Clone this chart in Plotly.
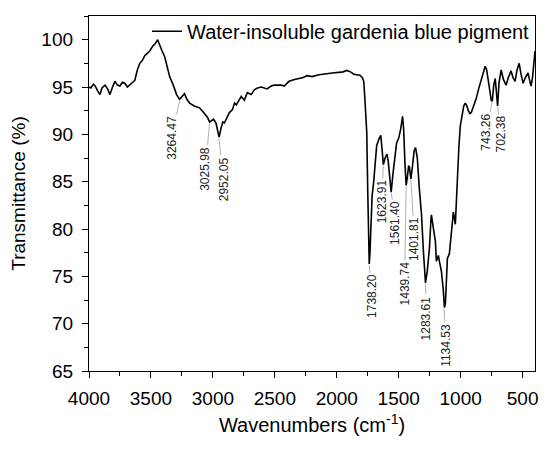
import plotly.graph_objects as go

# FTIR spectrum, values
wavenumber = [
    4000, 3985, 3965, 3950, 3930, 3912, 3895, 3871, 3850, 3831, 3810, 3791,
    3770, 3751, 3730, 3711, 3690, 3671, 3650, 3630, 3610, 3590, 3570, 3550,
    3534, 3510, 3486, 3465, 3446, 3430, 3410, 3389, 3370, 3349, 3320, 3293,
    3269, 3250, 3229, 3210, 3188, 3150, 3108, 3075, 3044, 3026, 3012, 2995,
    2975, 2960, 2950, 2935, 2920, 2907, 2885, 2867, 2843, 2825, 2811, 2790,
    2771, 2746, 2722, 2690, 2666, 2640, 2610, 2562, 2530, 2505, 2449, 2425,
    2385, 2340, 2304, 2270, 2240, 2200, 2144, 2100, 2063, 2020, 1983, 1950,
    1919, 1890, 1862, 1840, 1814, 1795, 1782, 1772, 1766, 1758, 1750, 1742,
    1738, 1732, 1725, 1715, 1702, 1690, 1678, 1660, 1645, 1635, 1624, 1610,
    1595, 1585, 1570, 1561, 1545, 1530, 1517, 1500, 1485, 1469, 1460, 1450,
    1440, 1430, 1420, 1413, 1402, 1390, 1375, 1364, 1350, 1335, 1316, 1300,
    1284, 1270, 1252, 1240, 1236, 1225, 1204, 1196, 1180, 1172, 1155, 1140,
    1131, 1123, 1107, 1091, 1075, 1059, 1043, 1030, 1015, 1003, 990, 975,
    963, 950, 938, 925, 914, 895, 874, 855, 834, 815, 802, 790,
    777, 765, 753, 745, 733, 721, 710, 702, 690, 673, 655, 633,
    615, 593, 578, 561, 545, 528, 512, 496, 478, 456, 445, 432,
    420, 408, 400,
]
transmittance = [
    95.0, 94.9, 95.3, 95.1, 94.6, 94.2, 94.9, 95.2, 94.8, 94.2, 95.0, 95.6,
    95.2, 95.1, 95.5, 95.4, 95.0, 95.2, 95.4, 95.7, 96.8, 97.5, 97.8, 98.3,
    98.5, 98.8, 99.3, 99.6, 100.0, 99.4, 98.8, 98.2, 97.2, 96.1, 95.2, 94.2,
    93.7, 94.0, 94.3, 93.7, 93.3, 93.0, 92.8, 92.3, 91.8, 91.3, 91.4, 91.6,
    91.2, 90.2, 89.7, 90.6, 91.3, 91.2, 91.8, 92.3, 92.6, 93.3, 93.1, 93.6,
    94.0, 93.6, 94.4, 94.2, 94.7, 94.9, 95.0, 94.8, 95.1, 95.2, 95.2, 95.1,
    95.6, 95.8, 95.9, 96.0, 96.2, 96.1, 96.3, 96.4, 96.45, 96.5, 96.55, 96.6,
    96.75, 96.6, 96.35, 96.3, 96.25, 96.0, 95.6, 93.5, 92.3, 90.2, 84.0, 78.5,
    76.3, 77.5, 80.5, 83.5, 85.0, 87.5, 88.8, 89.5, 89.9, 88.5, 86.8, 87.5,
    87.9, 87.2, 85.0, 83.9, 86.0, 88.0, 89.1, 89.6, 90.5, 91.9, 90.5, 87.0,
    84.6, 85.5, 86.7, 86.5, 85.3, 86.5, 88.3, 88.6, 87.5, 84.5, 81.5, 77.5,
    74.3, 75.5, 78.0, 81.0, 81.5, 80.5, 78.7, 76.6, 77.2, 76.6, 75.5, 73.5,
    71.7, 72.2, 76.9, 77.4, 79.5, 81.8, 80.5, 84.5, 88.5, 90.9, 92.0, 93.0,
    93.3, 93.0, 92.5, 92.2, 92.3, 93.0, 93.8, 94.8, 95.7, 96.5, 97.2, 96.8,
    95.7, 95.0, 93.6, 93.5, 95.2, 95.9, 94.5, 93.0, 95.5, 96.8, 95.8, 95.2,
    96.0, 96.7, 96.0, 95.6, 96.8, 97.5, 96.3, 95.4, 96.0, 96.5, 95.8, 95.1,
    96.0, 98.0, 98.8,
]

# peak labels: name, peak position, label centre
peak_labels = ["3264.47", "3025.98", "2952.05", "1738.20", "1623.91", "1561.40",
               "1439.74", "1401.81", "1283.61", "1134.53", "743.26", "702.38"]
peak_x = [3264.47, 3025.98, 2952.05, 1738.20, 1623.91, 1561.40,
          1439.74, 1401.81, 1283.61, 1134.53, 743.26, 702.38]
peak_y = [93.8, 91.3, 89.7, 76.3, 86.8, 83.9, 84.6, 85.3, 74.3, 71.7, 93.6, 93.0]
label_x = [3333, 3060, 2915, 1718, 1637, 1525, 1453, 1372, 1276, 1115, 794, 673]
label_y = [89.6, 86.4, 85.3, 72.9, 82.9, 80.6, 74.2, 78.9, 70.6, 67.7, 90.2, 90.0]

fig = go.Figure()
fig.add_trace(go.Scatter(
    x=wavenumber, y=transmittance, mode="lines",
    line=dict(color="black", width=1.6),
    name="Water-insoluble gardenia blue pigment",
))

for name, px_, py_, lx, ly in zip(peak_labels, peak_x, peak_y, label_x, label_y):
    fig.add_annotation(
        x=px_, y=py_, ax=lx, ay=ly, axref="x", ayref="y",
        text=name, textangle=-90, showarrow=True, arrowhead=0,
        arrowwidth=0.8, arrowcolor="#9a9a9a", standoff=1,
        font=dict(size=12, color="#222222", family="Liberation Sans"),
    )

axis_font = dict(family="Liberation Sans", size=19, color="black")
fig.update_xaxes(
    range=[4000, 400], tickvals=[4000, 3500, 3000, 2500, 2000, 1500, 1000, 500],
    showline=True, linecolor="black", linewidth=1.3, mirror=True,
    ticks="outside", ticklen=6, tickwidth=1.3, tickcolor="black",
    ticklabelstandoff=4,
    minor=dict(ticks="outside", ticklen=3.5, tickwidth=1.3, tickcolor="black", dtick=250),
    showgrid=False, zeroline=False, tickfont=axis_font,
    title=dict(text="Wavenumbers (cm<sup>-1</sup>)",
               font=dict(family="Liberation Sans", size=20, color="black"), standoff=10),
)
fig.update_yaxes(
    range=[65, 102.5], tickvals=[65, 70, 75, 80, 85, 90, 95, 100],
    showline=True, linecolor="black", linewidth=1.3, mirror=True,
    ticks="outside", ticklen=6, tickwidth=1.3, tickcolor="black",
    ticklabelstandoff=5,
    minor=dict(ticks="outside", ticklen=3.5, tickwidth=1.3, tickcolor="black", dtick=2.5),
    showgrid=False, zeroline=False, tickfont=axis_font,
    title=dict(text="Transmittance (%)", font=axis_font, standoff=10),
)
fig.update_layout(
    width=550, height=449,
    margin=dict(l=89, r=13, t=12, b=78),
    plot_bgcolor="white", paper_bgcolor="white",
    showlegend=True,
    legend=dict(x=1, xanchor="right", y=1.012, yanchor="top",
                bgcolor="rgba(0,0,0,0)",
                font=dict(family="Liberation Sans", size=20, color="black")),
)

# drop the browser's default page margin so the figure sits at the window corner
fig.write_html("out.html", config={"displayModeBar": False},
               post_script="document.body.style.margin='0px';")
